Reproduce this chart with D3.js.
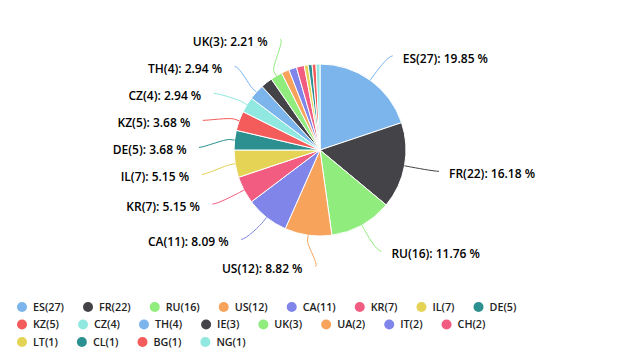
<!DOCTYPE html>
<html>
<head>
<meta charset="utf-8">
<script src="https://cdn.jsdelivr.net/npm/d3@7"></script>
<style>
  html, body { margin: 0; padding: 0; background: #fff; }
  svg { display: block; font-family: "Open Sans", "Noto Sans", sans-serif; }
</style>
</head>
<body>
<svg id="chart" width="640" height="360"></svg>
<script>
const categories = ["ES","FR","RU","US","CA","KR","IL","DE","KZ","CZ","TH","IE","UK","UA","IT","CH","LT","CL","BG","NG"];
const counts = [27,22,16,12,11,7,7,5,5,4,4,3,3,2,2,2,1,1,1,1];
const palette = ["#7cb5ec","#434348","#90ed7d","#f7a35c","#8085e9","#f15c80","#e4d354","#2b908f","#f45b5b","#91e8e1"];

const data = categories.map((c, i) => ({ cat: c, value: counts[i], idx: i }));
const total = d3.sum(counts);
const color = d3.scaleOrdinal().domain(d3.range(categories.length)).range(palette);

const svg = d3.select("#chart");
const cx = 320, cy = 150, r = 86;
const labelDist = 30, R = r + labelDist, spacing = 27;

const pie = d3.pie().sort(null).value(d => d.value).startAngle(0).endAngle(2 * Math.PI);
const arcs = pie(data);
const arc = d3.arc().innerRadius(0).outerRadius(r);

const g = svg.append("g").attr("transform", `translate(${cx},${cy})`);
g.selectAll("path.slice").data(arcs).enter().append("path")
  .attr("class", "slice")
  .attr("d", arc)
  .attr("fill", d => color(d.data.idx))
  .attr("stroke", "#fff")
  .attr("stroke-width", 1)
  .attr("stroke-linejoin", "round");

// ---- label layout (Highcharts-like distribution) ----
arcs.forEach(a => {
  a.mid = (a.startAngle + a.endAngle) / 2;
  a.left = a.mid > Math.PI;
  a.target = cy - R * Math.cos(a.mid);
});

const yMin = cy - R + 2, yMax = cy + R + 4;

function distribute(items) {
  items.sort((a, b) => a.target - b.target);
  let clusters = items.map(it => ({ items: [it] }));
  const place = c => {
    const n = c.items.length;
    const ts = c.items.map(d => d.target);
    const centre = (d3.mean(ts) + (d3.min(ts) + d3.max(ts)) / 2) / 2;
    let top = centre - (n - 1) * spacing / 2;
    top = Math.max(yMin, Math.min(top, yMax - (n - 1) * spacing));
    c.top = top;
  };
  clusters.forEach(place);
  let changed = true;
  while (changed) {
    changed = false;
    for (let i = 0; i < clusters.length - 1; i++) {
      const a = clusters[i], b = clusters[i + 1];
      if (a.top + a.items.length * spacing > b.top + 0.01) {
        const m = { items: a.items.concat(b.items) };
        place(m);
        clusters.splice(i, 2, m);
        changed = true;
        break;
      }
    }
  }
  clusters.forEach(c => c.items.forEach((it, k) => { it.ly = c.top + k * spacing; }));
}

[true, false].forEach(side => {
  const cand = arcs.filter(a => a.left === side)
    .sort((a, b) => (b.data.value - a.data.value) || (b.data.idx - a.data.idx));
  const kept = [];
  cand.forEach(a => {
    if (kept.length * spacing < yMax - yMin) kept.push(a);
  });
  kept.forEach(a => a.show = true);
  distribute(kept);
});

const labels = arcs.filter(a => a.show);
labels.forEach(a => {
  const dy = a.ly - cy;
  const dx = Math.sqrt(Math.max(0, R * R - dy * dy));
  a.xc = a.left ? cx - dx : cx + dx;
});

const pointAt = (ang, rad) => [cx + rad * Math.sin(ang), cy - rad * Math.cos(ang)];

svg.append("g").selectAll("path.conn").data(labels).enter().append("path")
  .attr("class", "conn")
  .attr("fill", "none")
  .attr("stroke", d => color(d.data.idx))
  .attr("stroke-width", 1)
  .attr("d", d => {
    const p3 = pointAt(d.mid, r);
    const p2 = pointAt(d.mid, r + 5);
    const c2 = [2 * p2[0] - p3[0], 2 * p2[1] - p3[1]];
    const x0 = d.left ? d.xc - 5 : d.xc + 5;
    const p = d3.path();
    p.moveTo(x0, d.ly);
    p.bezierCurveTo(d.xc, d.ly, c2[0], c2[1], p2[0], p2[1]);
    p.lineTo(p3[0], p3[1]);
    return p.toString();
  });

svg.append("g").selectAll("text.lbl").data(labels).enter().append("text")
  .attr("class", "lbl")
  .attr("x", d => d.left ? d.xc - 17.5 : d.xc + 15)
  .attr("y", d => d.ly + 2.5)
  .attr("dy", "0.35em")
  .attr("text-anchor", d => d.left ? "end" : "start")
  .attr("font-size", 12)
  .attr("font-weight", 600)
  .attr("fill", "#000")
  .text(d => `${d.data.cat}(${d.data.value}): ${(d.data.value / total * 100).toFixed(2)} %`);

// ---- legend ----
const perRow = 8;
const legendX0 = 22, legendY0 = 307, rowH = 17.5, symR = 5, textOff = 11, gap = 24;
const legend = svg.append("g");
let rowX = legendX0;
data.forEach((d, i) => {
  const row = Math.floor(i / perRow);
  if (i % perRow === 0) rowX = legendX0;
  const y = legendY0 + row * rowH;
  const item = legend.append("g");
  item.append("circle").attr("cx", rowX).attr("cy", y).attr("r", symR).attr("fill", color(d.idx));
  const t = item.append("text")
    .attr("x", rowX + textOff).attr("y", y).attr("dy", "0.35em")
    .attr("font-size", 10.75).attr("font-weight", 600).attr("fill", "#222")
    .text(`${d.cat}(${d.value})`);
  const w = t.node().getComputedTextLength();
  rowX = rowX + textOff + w + gap;
});
</script>
</body>
</html>
